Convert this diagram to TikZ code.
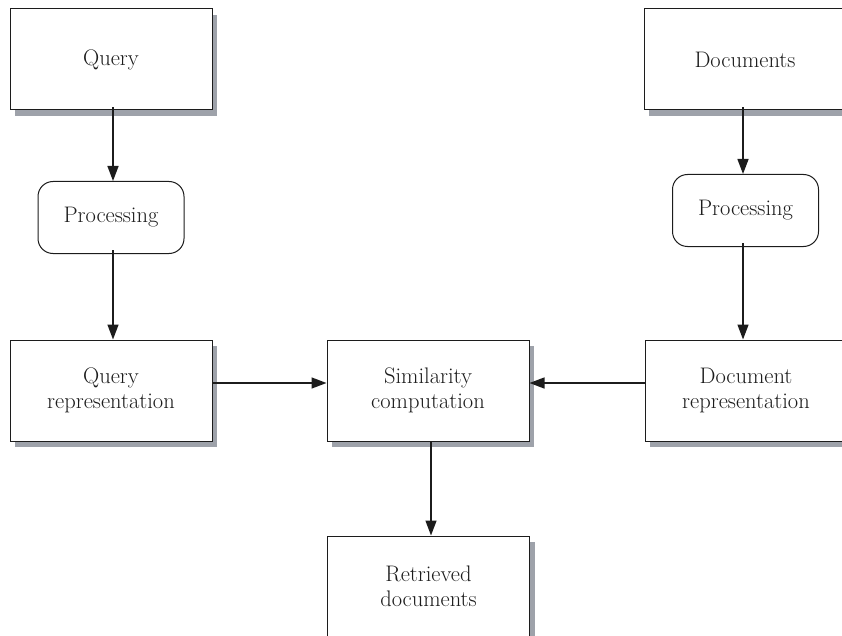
\documentclass[tikz,border=0pt]{standalone}
\usetikzlibrary{arrows.meta,shadows}
\definecolor{shadowgray}{RGB}{158,162,170}
\definecolor{inkgray}{RGB}{28,28,28}
\begin{document}
\begin{tikzpicture}[x=1pt,y=-1pt,
  every node/.style={font=\fontsize{22.5}{24.5}\selectfont, text=inkgray, align=center},
  box/.style={draw=inkgray, line width=1pt, fill=white, rectangle,
    minimum width=202pt, minimum height=101pt, inner sep=0pt,
    drop shadow={shadow xshift=5pt, shadow yshift=-6pt, fill=shadowgray, opacity=1}},
  procbox/.style={draw=inkgray, line width=1pt, fill=white, rectangle,
    rounded corners=15pt, minimum width=146pt, minimum height=72pt, inner sep=0pt},
  arr/.style={draw=inkgray, line width=1.4pt, -{Triangle[length=15pt,width=11pt]}}
]
\useasboundingbox (0,0) rectangle (842,636);

% left column: query side
\node[box] (query) at (111,59.5) {Query};
\node[procbox] (qproc) at (111,217.5) {Processing};
\node[box] (qrep) at (111,390.5) {Query\\representation};

% centre column
\node[box] (sim) at (428,390.5) {Similarity\\computation};
\node[box] (ret) at (428.5,586.5) {Retrieved\\documents};

% right column: document side
\node[box] (docs) at (745,59.5) {Documents};
\node[procbox] (dproc) at (745.5,210.5) {Processing};
\node[box] (drep) at (746,390.5) {Document\\representation};

% connectors
\draw[arr] ([xshift=2pt,yshift=3pt]query.south) -- ([xshift=2pt]qproc.north);
\draw[arr] ([xshift=2pt,yshift=4pt]qproc.south) -- ([xshift=2pt]qrep.north);
\draw[arr] ([xshift=-2pt,yshift=3pt]docs.south) -- ([xshift=-2.5pt]dproc.north);
\draw[arr] ([xshift=-2.5pt,yshift=4pt]dproc.south) -- ([xshift=-3pt]drep.north);
\draw[arr] ([yshift=7.5pt]qrep.east) -- ([yshift=7.5pt]sim.west);
\draw[arr] ([yshift=7.5pt]drep.west) -- ([yshift=7.5pt]sim.east);
\draw[arr] ([xshift=3pt]sim.south) -- ([xshift=2.5pt]ret.north);
\end{tikzpicture}
\end{document}
